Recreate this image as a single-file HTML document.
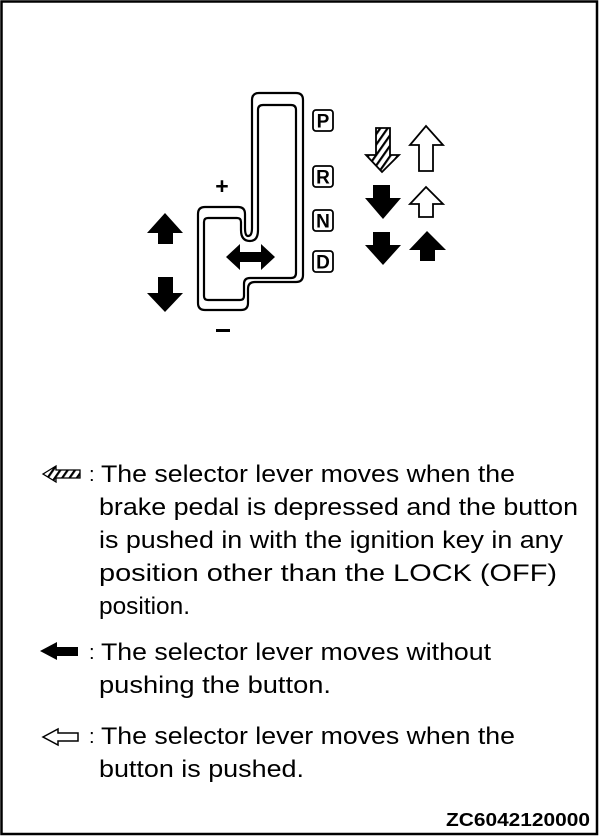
<!DOCTYPE html>
<html><head><meta charset="utf-8"><style>
html,body{margin:0;padding:0;background:#fff;}
svg{display:block;}
text{font-family:"Liberation Sans",Arial,sans-serif;fill:#000;}
</style></head><body>
<svg width="600" height="837" viewBox="0 0 600 837" xmlns="http://www.w3.org/2000/svg">
<defs>
<pattern id="h" width="6" height="6" patternUnits="userSpaceOnUse" patternTransform="rotate(35)">
<rect width="6" height="6" fill="#fff"/><rect width="2.2" height="6" fill="#000"/>
</pattern>
</defs>
<rect x="1.5" y="1.5" width="595.5" height="832.5" fill="#fff" stroke="#000" stroke-width="2.5"/>

<path d="M252,100 Q252,93 259,93 L296,93 Q303,93 303,100 L303,275 Q303,282 296,282 L255,282 Q248,282 248,289 L248,303 Q248,310 241,310 L205,310 Q198,310 198,303 L198,214 Q198,207 205,207 L238,207 Q245,207 245,214 L245,228 Q245,236 248,236 Q252,236 252,228 Z" fill="none" stroke="#000" stroke-width="2.2"/>
<path d="M258,110 Q258,105 263,105 L291,105 Q296,105 296,110 L296,273 Q296,278 291,278 L250,278 Q244,278 244,284 L244,296 Q244,300 240,300 L208,300 Q204,300 204,296 L204,222 Q204,218 208,218 L237,218 Q241,218 241,222 L241,230 Q241,241 250,241 Q258,241 258,230 Z" fill="none" stroke="#000" stroke-width="2.2"/>
<path d="M226,257 L240,244 L240,252 L261,252 L261,244 L275,257 L261,270 L261,262 L240,262 L240,270 Z" fill="#000"/>

<g fill="#fff" stroke="#000" stroke-width="1.8">
<rect x="313" y="110" width="20" height="21" rx="3"/>
<rect x="313" y="166" width="20" height="21" rx="3"/>
<rect x="313" y="210" width="20" height="21" rx="3"/>
<rect x="313" y="251" width="20" height="21" rx="3"/>
</g>
<g font-size="19" font-weight="bold" text-anchor="middle">
<text x="323" y="127.5">P</text>
<text x="323" y="183.5">R</text>
<text x="323" y="227.5">N</text>
<text x="323" y="268.5">D</text>
</g>
<text x="222" y="194" font-size="23" font-weight="bold" text-anchor="middle">+</text>
<rect x="216" y="329" width="14" height="3" fill="#000"/>

<path d="M165,213 L183,233 L173,233 L173,244 L158,244 L158,233 L147,233 Z" fill="#000"/>
<path d="M165,312 L183,293 L173,293 L173,277 L158,277 L158,293 L147,293 Z" fill="#000"/>

<path d="M382,172 L399,155 L390,155 L390,128 L376,128 L376,155 L366,155 Z" fill="url(#h)" stroke="#000" stroke-width="1.8"/>
<path d="M426,126 L443,145 L433,145 L433,171 L419,171 L419,145 L410,145 Z" fill="#fff" stroke="#000" stroke-width="1.8"/>
<path d="M383,219 L401,198 L390,198 L390,185 L373,185 L373,198 L365,198 Z" fill="#000"/>
<path d="M426,187 L443,204 L433,204 L433,217 L419,217 L419,204 L410,204 Z" fill="#fff" stroke="#000" stroke-width="1.8"/>
<path d="M383,265 L401,245 L390,245 L390,232 L373,232 L373,245 L365,245 Z" fill="#000"/>
<path d="M427,231 L446,250 L435,250 L435,261 L420,261 L420,250 L409,250 Z" fill="#000"/>

<path d="M43,474 L56,466 L56,470 L80,470 L80,478 L56,478 L56,482 Z" fill="url(#h)" stroke="#000" stroke-width="1.3"/>
<path d="M40,651 L57,642 L57,647 L78,647 L78,656 L57,656 L57,660 Z" fill="#000"/>
<path d="M43,737 L58,729 L58,733 L78,733 L78,741 L58,741 L58,745 Z" fill="#fff" stroke="#000" stroke-width="1.5"/>

<g font-size="24">
<text x="89" y="481" font-size="20">:</text>
<text x="101" y="482" textLength="414" lengthAdjust="spacingAndGlyphs">The selector lever moves when the</text>
<text x="99" y="515" textLength="479" lengthAdjust="spacingAndGlyphs">brake pedal is depressed and the button</text>
<text x="99" y="548" textLength="464" lengthAdjust="spacingAndGlyphs">is pushed in with the ignition key in any</text>
<text x="99" y="581" textLength="458" lengthAdjust="spacingAndGlyphs">position other than the LOCK (OFF)</text>
<text x="99" y="614" textLength="91" lengthAdjust="spacingAndGlyphs">position.</text>
<text x="89" y="659" font-size="20">:</text>
<text x="101" y="660" textLength="390" lengthAdjust="spacingAndGlyphs">The selector lever moves without</text>
<text x="99" y="693" textLength="232" lengthAdjust="spacingAndGlyphs">pushing the button.</text>
<text x="89" y="743" font-size="20">:</text>
<text x="101" y="744" textLength="414" lengthAdjust="spacingAndGlyphs">The selector lever moves when the</text>
<text x="99" y="777" textLength="205" lengthAdjust="spacingAndGlyphs">button is pushed.</text>
</g>
<text x="446" y="826" font-size="18" font-weight="bold" textLength="144" lengthAdjust="spacingAndGlyphs">ZC6042120000</text>
</svg>
</body></html>
